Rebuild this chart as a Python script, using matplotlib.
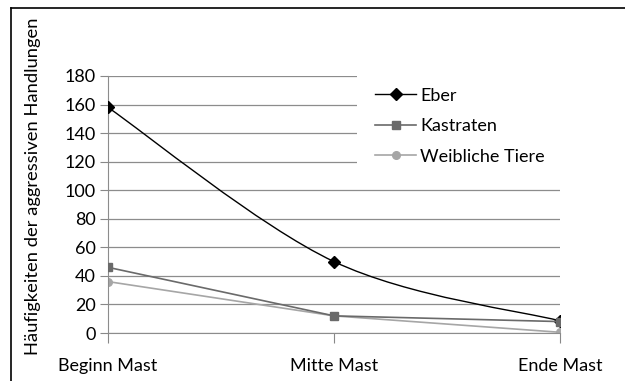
import numpy as np
import matplotlib
matplotlib.use("Agg")
import matplotlib.pyplot as plt
from matplotlib.path import Path
from matplotlib.patches import PathPatch
from matplotlib.lines import Line2D

plt.rcParams['font.family'] = ['Lato', 'DejaVu Sans']

phases = ["Beginn Mast", "Mitte Mast", "Ende Mast"]
eber = [158, 50, 8.5]
kastraten = [46, 12, 8]
weibliche = [36, 12, 0.5]
yticks = [0, 20, 40, 60, 80, 100, 120, 140, 160, 180]


def smooth_path(xs, ys):
    # Catmull-Rom style bezier, like a spreadsheet "smoothed line"
    pts = np.column_stack([xs, ys]).astype(float)
    n = len(pts)
    verts = [pts[0]]
    codes = [Path.MOVETO]
    for i in range(n - 1):
        p_prev = pts[max(i - 1, 0)]
        p0, p1 = pts[i], pts[i + 1]
        p_next = pts[min(i + 2, n - 1)]
        c1 = p0 + (p1 - p_prev) / 6.0
        c2 = p1 - (p_next - p0) / 6.0
        verts += [c1, c2, p1]
        codes += [Path.CURVE4] * 3
    return Path(verts, codes)


fig = plt.figure(figsize=(6.25, 3.81), dpi=100)
ax = fig.add_axes([108 / 625, 48 / 381, 452 / 625, 257 / 381])

x = np.arange(len(phases))

# Eber: smoothed line with diamond markers
ax.add_patch(PathPatch(smooth_path(x, eber), facecolor='none',
                       edgecolor='black', linewidth=1.0, zorder=3))
ax.plot(x, eber, linestyle='none', marker='D', markersize=6.5,
        color='black', zorder=4)
ax.plot(x, weibliche, color='#a6a6a6', linewidth=1.2, marker='o',
        markersize=5.5, zorder=2)
ax.plot(x, kastraten, color='#6a6a6a', linewidth=1.2, marker='s',
        markersize=6, zorder=5)

ax.set_xlim(0, 2)
ax.set_ylim(0, 180)
ax.set_yticks(yticks)
ax.set_xticks(x)
ax.set_xticklabels(phases)
ax.tick_params(axis='y', labelsize=13, length=6, width=0.8,
               color='#888888', pad=3)
ax.tick_params(axis='x', labelsize=13, length=7, width=0.8,
               color='#888888', pad=11)
ax.yaxis.grid(True, color='#8c8c8c', linewidth=0.9)
ax.set_axisbelow(True)
for side in ['top', 'right']:
    ax.spines[side].set_visible(False)
ax.spines['left'].set_color('#8c8c8c')
ax.spines['bottom'].set_color('#8c8c8c')
for lab in ax.get_xticklabels():
    lab.set_clip_on(False)

handles = [
    Line2D([], [], color='black', linewidth=1.0, marker='D', markersize=6.5),
    Line2D([], [], color='#6a6a6a', linewidth=1.2, marker='s', markersize=6),
    Line2D([], [], color='#a6a6a6', linewidth=1.2, marker='o', markersize=5.5),
]
leg = ax.legend(handles, ["Eber", "Kastraten", "Weibliche Tiere"],
                loc='upper left', bbox_to_anchor=(0.551, 1.023),
                frameon=True, fancybox=False, framealpha=1.0,
                edgecolor='none', fontsize=13, handlelength=2.3,
                handletextpad=0.2, labelspacing=0.8, borderpad=0.98,
                borderaxespad=0)
leg.get_frame().set_linewidth(0)
leg.set_zorder(6)

fig.text(33 / 625, 0.51, "Häufigkeiten der aggressiven Handlungen",
         rotation=90, ha='center', va='center', fontsize=13.2)

# outer frame
fig.add_artist(Line2D([11 / 625, 11 / 625], [0, 1 - 8 / 381],
                      color='black', linewidth=1.2))
fig.add_artist(Line2D([11 / 625, 1], [1 - 8 / 381, 1 - 8 / 381],
                      color='black', linewidth=1.2))

fig.savefig("out.png", dpi=100)
